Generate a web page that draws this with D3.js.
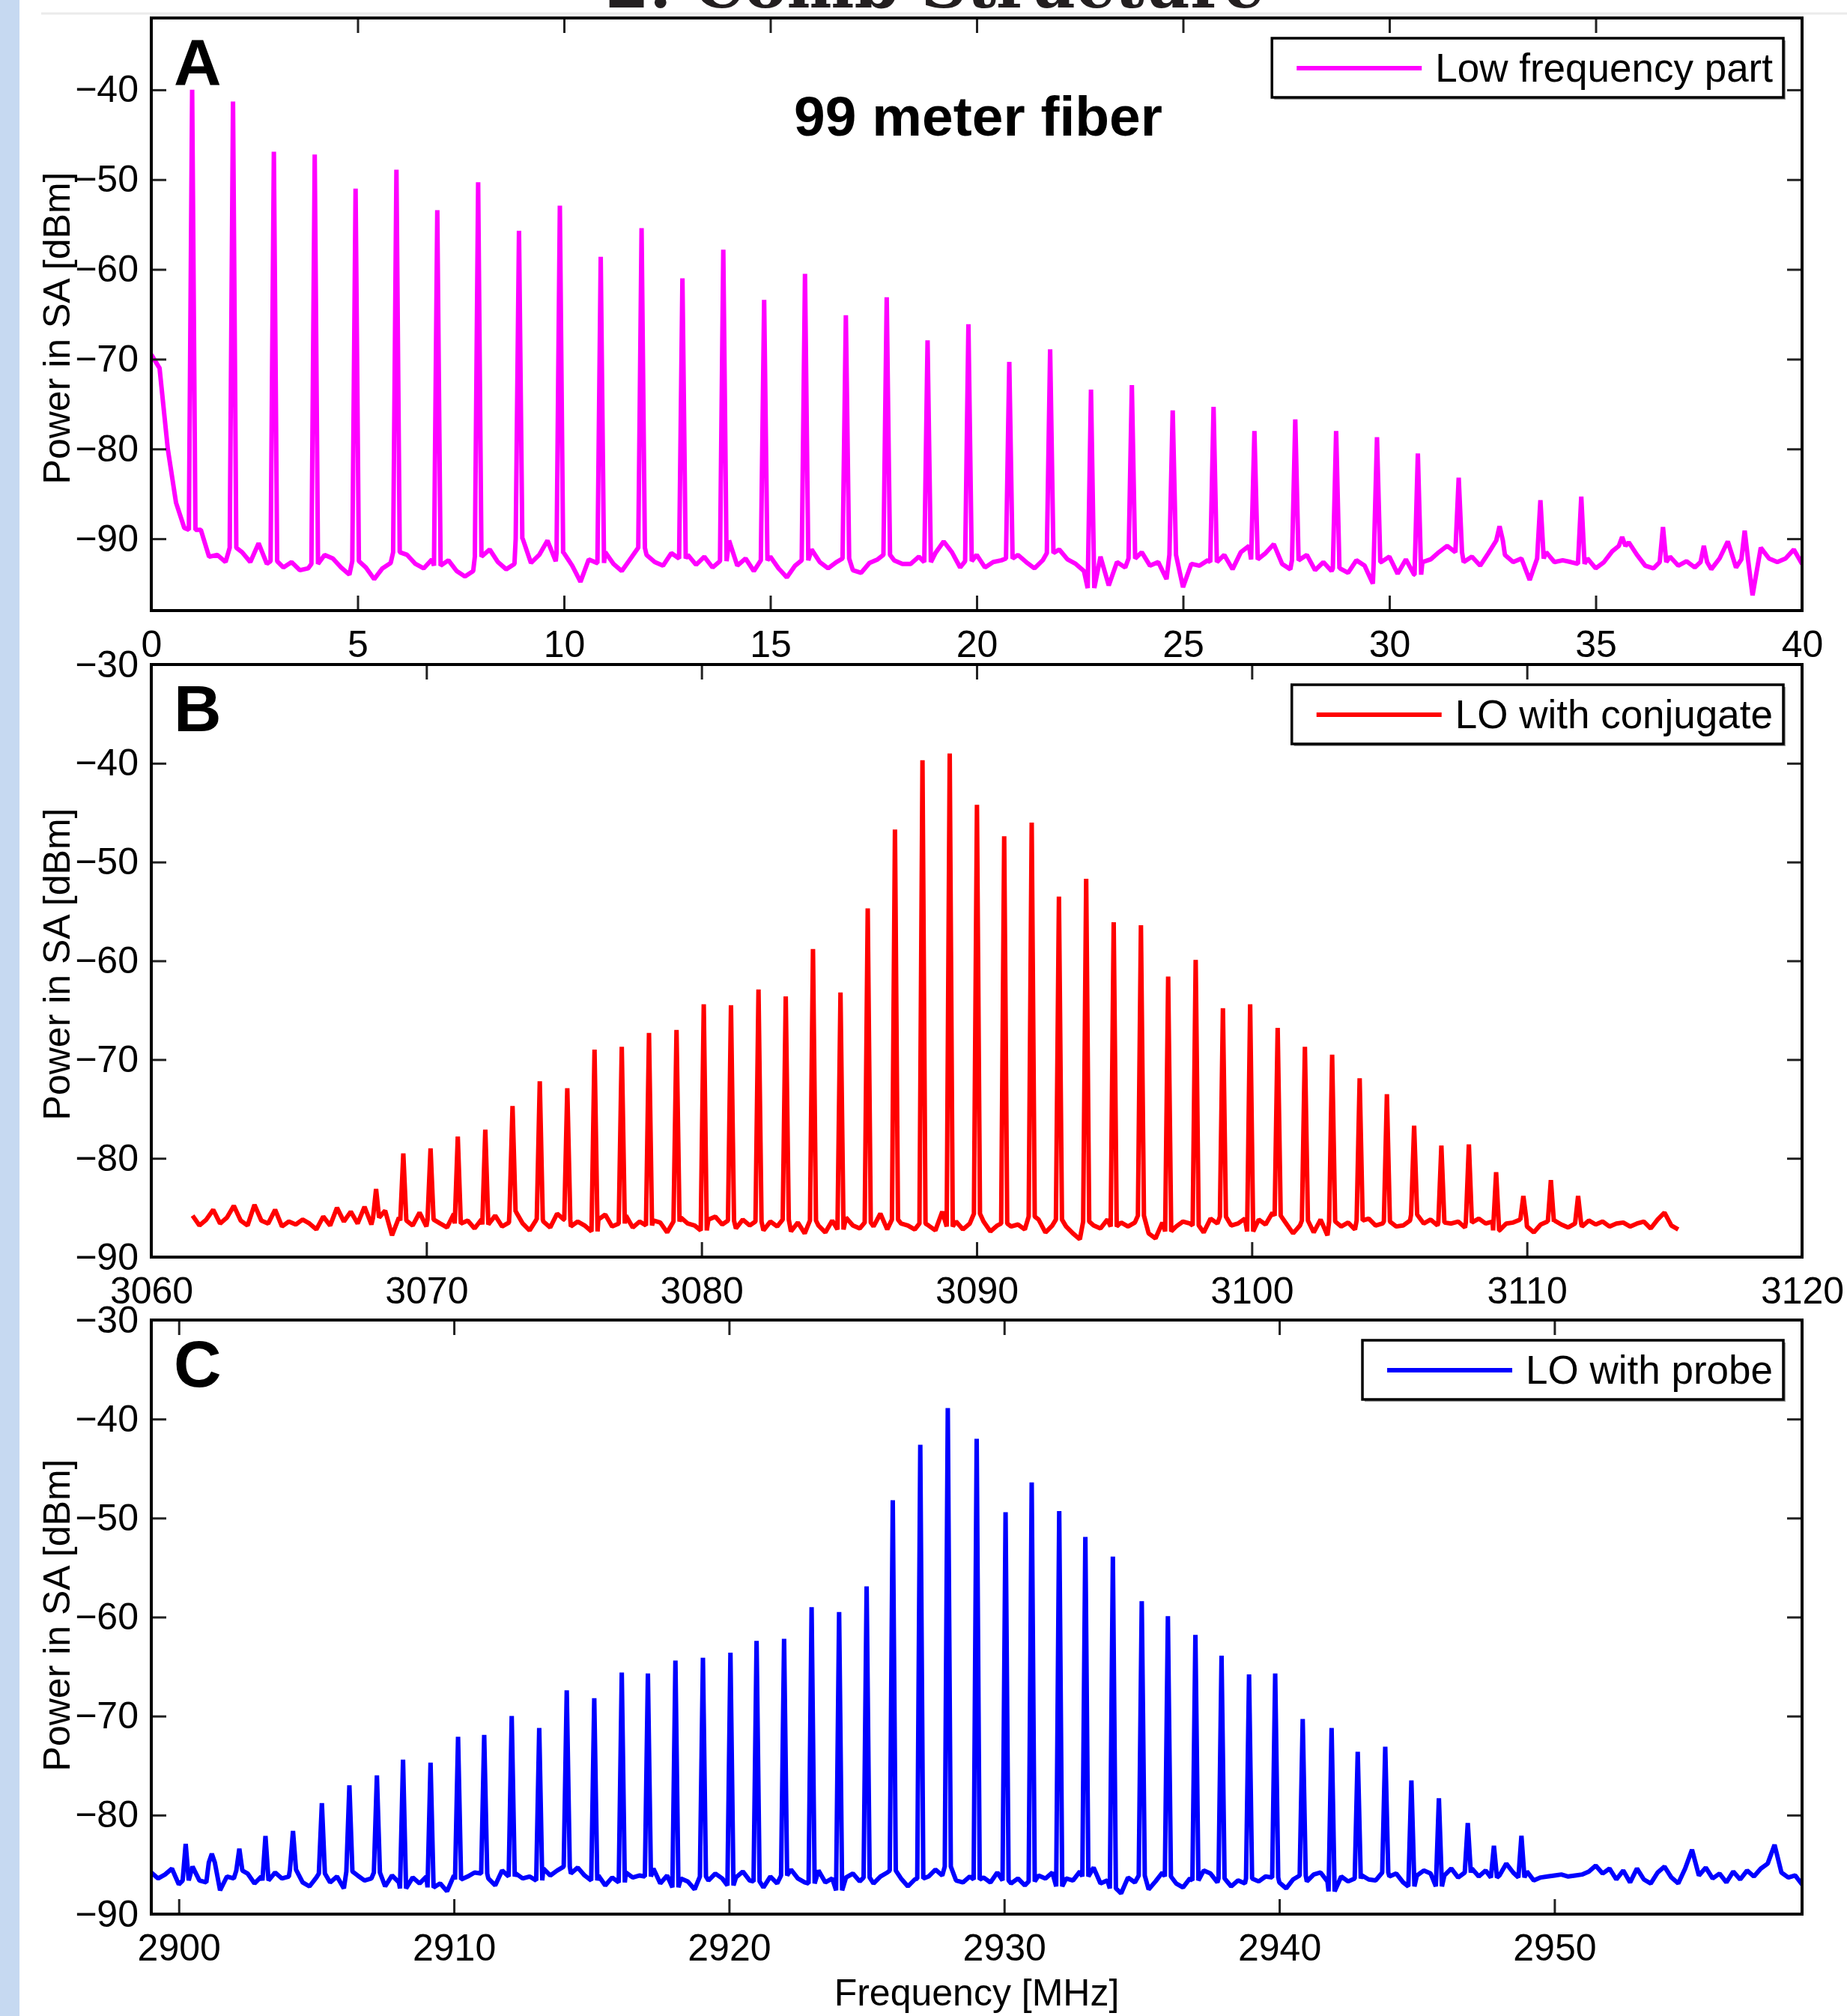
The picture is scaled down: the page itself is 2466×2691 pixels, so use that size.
<!DOCTYPE html>
<html>
<head>
<meta charset="utf-8">
<script src="https://cdn.jsdelivr.net/npm/d3@7"></script>
<style>
  body { margin: 0; background: #fff; }
  text { font-family: 'Liberation Sans', Arial, sans-serif; }
</style>
</head>
<body>
<div id="chart"></div>
<script>
// ---- panel A : low frequency part ----
const floorStartA = 0
const floorStepA = 0.2
const floorA = [
  -69.5, -71, -80, -86, -88.8, -89, -89, -92, -91.8, -92.6,
  -91, -91.5, -92.6, -90.5, -92.8, -92.5, -93.2, -92.6, -93.5, -93.3,
  -92.8, -91.8, -92.2, -93.2, -94, -92.5, -93.2, -94.5, -93.3, -92.7,
  -91.5, -91.8, -92.8, -93.3, -92.3, -93, -92.4, -93.6, -94.2, -93.6,
  -92, -91.2, -92.6, -93.4, -92.8, -90, -92.7, -91.8, -90.2, -92.5,
  -91.6, -93, -94.8, -92.3, -92.7, -91.5, -92.8, -93.6, -92.3, -91,
  -91.8, -92.6, -93, -91.6, -92.2, -91.8, -92.9, -92, -93.2, -92.5,
  -90.2, -93, -92.2, -93.6, -92.4, -92, -93.3, -94.3, -93, -92.4,
  -91.2, -92.6, -93.3, -92.6, -92.2, -93.5, -93.8, -92.7, -92.3, -91.8,
  -92.4, -92.8, -92.8, -92, -92.6, -91.6, -90.3, -91.5, -93.2, -92.5,
  -91.8, -93.2, -92.6, -92.4, -92.2, -91.8, -92.6, -93.3, -92.4, -91.6,
  -91.2, -92.3, -92.8, -93.6, -95.5, -92, -95.2, -92.6, -93.2, -92.2,
  -91.5, -93, -92.6, -94.5, -91.8, -95.4, -92.8, -93, -92.4, -92.6,
  -91.8, -93.4, -91.5, -90.8, -92.3, -91.6, -90.6, -92.8, -93.4, -92.4,
  -91.8, -93.5, -92.6, -93.6, -93.3, -93.8, -92.4, -93, -95, -92.6,
  -92, -93.9, -92.3, -94, -92.6, -92.3, -91.5, -90.8, -91.5, -92.6,
  -92, -93, -91.6, -90.2, -91.8, -92.6, -92.2, -94.6, -92.2, -91.5,
  -92.6, -92.4, -92.6, -92.8, -92.2, -93.3, -92.6, -91.4, -90.8, -90.4,
  -91.8, -93, -93.3, -92.6, -92, -93, -92.5, -93.2, -92.6, -93.4,
  -92.2, -90.3, -93.2, -92.3, -96.3, -91, -92.2, -92.6, -92.2, -91.2,
  -92.8
]
const peakFreqA = [
  0.99, 1.98, 2.97, 3.96, 4.95, 5.94, 6.93, 7.92, 8.91, 9.90,
  10.89, 11.88, 12.87, 13.86, 14.85, 15.84, 16.83, 17.82, 18.81, 19.80,
  20.79, 21.78, 22.77, 23.76, 24.75, 25.74, 26.73, 27.72, 28.71, 29.70,
  30.69, 31.68, 32.67, 33.66, 34.65, 35.64, 36.63, 37.62, 38.61
]
const peakPowerA = [
  -40, -41.3, -46.9, -47.2, -51, -48.9, -53.4, -50.3, -55.7, -52.9,
  -58.6, -55.4, -61, -57.8, -63.4, -60.5, -65.1, -63.1, -67.9, -66.1,
  -70.3, -68.9, -73.4, -72.9, -75.7, -75.3, -78, -76.7, -78, -78.7,
  -80.5, -83.2, -88.6, -85.7, -85.3, -89.8, -88.7, -90.8, -89.1
]
const xTicksA = [0, 5, 10, 15, 20, 25, 30, 35, 40]
const yTicksA = [-90, -80, -70, -60, -50, -40]

// ---- panel B : LO with conjugate ----
const floorStartB = 3061.5
const floorStepB = 0.25
const floorB = [
  -85.8, -86.8, -86.2, -85.2, -86.6, -86, -84.8, -86.3,
  -86.8, -84.7, -86.3, -86.6, -85.2, -86.9, -86.4, -86.7,
  -86.2, -86.6, -87.2, -85.9, -86.8, -85, -86.4, -85.4,
  -86.6, -84.9, -86.7, -86, -85.3, -87.8, -86, -86.3,
  -86.8, -85.5, -86.9, -86.2, -86.6, -87, -85.6, -86.6,
  -86.3, -87.1, -86.2, -86.7, -85.8, -86.9, -86.5, -85.4,
  -86.6, -87.3, -86.2, -86.4, -87, -85.6, -86.2, -86.9,
  -86.4, -86.8, -87.4, -86.2, -85.7, -86.9, -86.6, -85.8,
  -87, -86.4, -86.8, -86.3, -86.5, -87.5, -86.4, -86,
  -86.6, -86.8, -87.3, -86.2, -85.9, -86.7, -86.3, -87.1,
  -86.2, -86.8, -86.4, -87.3, -86.4, -86.9, -86.2, -87.4,
  -86.5, -87.6, -86.3, -86.8, -87.5, -86.3, -87.2, -86,
  -86.8, -87.1, -86.5, -86.9, -85.6, -87.2, -86.2, -86.6,
  -86.8, -87.2, -86.6, -86.8, -87.3, -85.4, -86.9, -86.4,
  -87.2, -86.6, -85.6, -86.4, -87.4, -86.8, -86.6, -86.9,
  -86.7, -87.2, -85.9, -86.2, -87.5, -86.8, -86.2, -86.9,
  -87.6, -88.2, -86.4, -86.8, -87.1, -86.2, -86.9, -86.5,
  -86.9, -86.5, -85.8, -87.6, -88.1, -86.5, -87.4, -86.9,
  -86.4, -86.6, -86.8, -87.5, -86.1, -86.6, -85.9, -86.8,
  -86.6, -86.1, -87.4, -86.2, -86.7, -85.5, -85.8, -86.6,
  -87.6, -86.8, -86.3, -87.5, -86.2, -87.8, -86.4, -86.9,
  -86.5, -87.2, -86.3, -86.1, -86.8, -86.6, -86.4, -86.9,
  -86.8, -86.3, -85.7, -86.6, -86.2, -86.8, -86.5, -86.6,
  -86.4, -87, -86.5, -86.1, -86.6, -86.4, -87.3, -86.6,
  -86.5, -86.2, -86.9, -87.5, -86.7, -86.4, -86.3, -86.7,
  -87, -86.6, -86.9, -86.3, -86.7, -86.4, -86.9, -86.6,
  -86.5, -86.9, -86.6, -86.4, -87.1, -86.2, -85.5, -86.8,
  -87.2
]
const peakFreqB = [
  3068.17, 3069.16, 3070.15, 3071.14, 3072.14, 3073.13, 3074.12, 3075.12, 3076.11, 3077.10,
  3078.09, 3079.09, 3080.08, 3081.07, 3082.07, 3083.06, 3084.05, 3085.05, 3086.04, 3087.03,
  3088.03, 3089.02, 3090.01, 3091.00, 3092.00, 3092.99, 3093.98, 3094.98, 3095.97, 3096.96,
  3097.96, 3098.95, 3099.94, 3100.94, 3101.93, 3102.92, 3103.92, 3104.91, 3105.90, 3106.89,
  3107.89, 3108.88, 3109.87, 3110.87, 3111.86
]
const peakPowerB = [
  -83.1, -79.5, -79, -77.8, -77.1, -74.7, -72.2, -72.9, -69, -68.7,
  -67.3, -67, -64.4, -64.5, -62.9, -63.6, -58.8, -63.2, -54.7, -46.7,
  -39.7, -39, -44.2, -47.4, -46, -53.5, -51.7, -56.1, -56.4, -61.6,
  -59.9, -64.8, -64.4, -66.8, -68.7, -69.5, -71.9, -73.5, -76.7, -78.7,
  -78.6, -81.4, -83.8, -82.2, -83.8
]
const xTicksB = [3060, 3070, 3080, 3090, 3100, 3110, 3120]
const yTicksB = [-90, -80, -70, -60, -50, -40, -30]

// ---- panel C : LO with probe ----
const floorStartC = 2899
const floorStepC = 0.25
const floorC = [
  -85.8, -86.4, -86, -85.4, -87, -86.6, -85.2, -86.6,
  -86.8, -84.8, -87.6, -86.2, -86.4, -85.6, -85.9, -86.9,
  -86.2, -86.6, -85.8, -86.4, -86.2, -85.5, -86.8, -87.2,
  -86.3, -85.9, -86.8, -86.2, -87.4, -85.7, -86.1, -86.6,
  -86.4, -85.8, -87.2, -86.1, -86.8, -87.4, -86.3, -86.9,
  -86.2, -87.3, -86.9, -87.7, -86.1, -86.5, -86.2, -85.8,
  -85.9, -86.4, -87.1, -85.6, -86.2, -85.9, -86.4, -86.2,
  -86.6, -85.4, -86.1, -85.6, -85.2, -85.9, -85.3, -86.1,
  -86.6, -86.1, -87.1, -86.3, -86.8, -85.8, -86.3, -86.1,
  -86.2, -85.4, -86.9, -86.1, -87.3, -86.4, -86.7, -87.5,
  -86.2, -86.6, -85.9, -86.4, -87.1, -86.3, -85.7, -86.6,
  -86.7, -87.3, -86.2, -86.9, -86.1, -85.5, -86.4, -86.8,
  -86.9, -85.6, -86.8, -86.4, -87.6, -86.3, -85.9, -86.7,
  -86.3, -86.9, -86.2, -85.8, -85.6, -86.4, -87.2, -86.5,
  -86.4, -86.2, -85.5, -86.1, -85.2, -86.6, -86.8, -86.2,
  -86.5, -86.3, -86.8, -85.8, -86.6, -86.9, -86.4, -87.1,
  -86.7, -86.1, -86.4, -85.8, -87.2, -86.4, -86.6, -85.7,
  -86.2, -85.3, -86.9, -86.6, -87.4, -87.9, -86.3, -86.8,
  -86.1, -87.5, -86.7, -85.8, -86.2, -86.9, -87.3, -86.4,
  -86.6, -85.6, -85.9, -86.8, -86.4, -87.2, -86.6, -86.9,
  -86.4, -86.7, -86.2, -86.3, -86.8, -87.4, -86.5, -86.1,
  -86.7, -86, -85.8, -86.7, -87.7, -86.2, -86.7, -86.4,
  -86.1, -86.5, -86.6, -85.8, -86.2, -85.9, -86.8, -87.2,
  -86.1, -85.6, -85.9, -87.2, -86.1, -85.4, -86.3, -85.8,
  -85.4, -86.2, -85.6, -86.3, -86.1, -84.9, -85.8, -86.3,
  -85.7, -86.6, -86.3, -86.2, -86.1, -86, -86.2, -86.1,
  -86, -85.7, -85.1, -85.9, -85.4, -86.5, -85.6, -86.8,
  -85.4, -86.5, -86.9, -85.8, -85.2, -86.3, -86.9, -85.4,
  -83.5, -86.1, -85.3, -86.4, -85.9, -86.8, -85.7, -86.5,
  -85.6, -86.2, -85.4, -84.9, -83, -85.8, -86.3, -86.1,
  -87
]
const peakFreqC = [
  2900.25, 2901.2, 2902.2, 2903.15, 2904.15, 2905.2, 2906.2, 2907.2, 2908.15, 2909.15,
  2910.15, 2911.1, 2912.1, 2913.1, 2914.1, 2915.1, 2916.1, 2917.05, 2918.05, 2919.05,
  2920.05, 2921.0, 2922.0, 2923.0, 2924.0, 2925.0, 2925.95, 2926.95, 2927.95, 2929.0,
  2930.05, 2931.0, 2932.0, 2932.95, 2933.95, 2935.0, 2935.95, 2936.95, 2937.9, 2938.9,
  2939.85, 2940.85, 2941.9, 2942.85, 2943.85, 2944.8, 2945.8, 2946.85, 2947.8, 2948.8
]
const peakPowerC = [
  -82.9, -83.9, -83.4, -82.1, -81.6, -78.8, -77, -76, -74.4, -74.7,
  -72.1, -71.9, -70, -71.2, -67.4, -68.2, -65.6, -65.7, -64.4, -64.1,
  -63.6, -62.4, -62.2, -59, -59.5, -56.9, -48.2, -42.6, -38.9, -42,
  -49.4, -46.4, -49.3, -51.9, -53.9, -58.4, -59.9, -61.8, -63.9, -65.8,
  -65.7, -70.3, -71.2, -73.6, -73.1, -76.5, -78.3, -80.8, -83.1, -82.1
]
const xTicksC = [2900, 2910, 2920, 2930, 2940, 2950]
const yTicksC = [-90, -80, -70, -60, -50, -40, -30]

const legendNames = ['Low frequency part', 'LO with conjugate', 'LO with probe']
const panelLetters = ['A', 'B', 'C']
const colors = ['#ff00ff', '#ff0000', '#0000ff']

const W = 2466
const H = 2691
const left = 202
const right = 2406

const panels = [
  { top: 24, bottom: 815, xDomain: [0, 40], yDomain: [-98, -32], labelY: 438,
    start: floorStartA, step: floorStepA, floor: floorA, peakF: peakFreqA, peakV: peakPowerA,
    xTicks: xTicksA, yTicks: yTicksA, w: 0.08 },
  { top: 887, bottom: 1678, xDomain: [3060, 3120], yDomain: [-90, -30], labelY: 1287,
    start: floorStartB, step: floorStepB, floor: floorB, peakF: peakFreqB, peakV: peakPowerB,
    xTicks: xTicksB, yTicks: yTicksB, w: 0.11 },
  { top: 1762, bottom: 2555, xDomain: [2899, 2959], yDomain: [-90, -30], labelY: 2156,
    start: floorStartC, step: floorStepC, floor: floorC, peakF: peakFreqC, peakV: peakPowerC,
    xTicks: xTicksC, yTicks: yTicksC, w: 0.11 }
]

// spectrum trace = noise floor samples with the comb lines put in
function buildSeries (p) {
  const pts = p.floor
    .map((v, i) => ({ f: p.start + i * p.step, v }))
    .filter(d => p.peakF.every(f => Math.abs(d.f - f) >= p.w))
  p.peakF.forEach((f, i) => {
    const base = p.floor[Math.round((f - p.start) / p.step)]
    pts.push({ f: f - p.w, v: base }, { f, v: p.peakV[i] }, { f: f + p.w, v: base })
  })
  return pts.sort((a, b) => a.f - b.f)
}

const svg = d3.select('#chart')
  .append('svg')
  .attr('width', W)
  .attr('height', H)
  .style('display', 'block')

svg.append('rect').attr('width', W).attr('height', H).attr('fill', '#fff')
svg.append('rect').attr('width', 26).attr('height', H).attr('fill', '#c6d9f1')
svg.append('line')
  .attr('x1', 55).attr('x2', W).attr('y1', 18).attr('y2', 18)
  .attr('stroke', '#ebebeb').attr('stroke-width', 3)

svg.append('text')
  .text('2. Comb Structure')
  .attr('x', 1248).attr('y', 10)
  .attr('text-anchor', 'middle')
  .attr('textLength', 880)
  .attr('lengthAdjust', 'spacingAndGlyphs')
  .style('font-family', "'DejaVu Serif', serif")
  .style('font-weight', 'bold')
  .style('font-size', '84px')
  .attr('fill', '#231f20')

function styleAxis (g) {
  g.select('.domain').remove()
  g.selectAll('.tick line').attr('stroke', '#222').attr('stroke-width', 3)
  g.selectAll('.tick text')
    .attr('fill', '#000')
    .style('font-family', "'Liberation Sans', Arial, sans-serif")
    .style('font-size', '50px')
}

panels.forEach((p, i) => {
  const x = d3.scaleLinear().domain(p.xDomain).range([left, right])
  const y = d3.scaleLinear().domain(p.yDomain).range([p.bottom, p.top])
  const g = svg.append('g')

  g.append('clipPath').attr('id', `clip${i}`)
    .append('rect')
    .attr('x', left).attr('y', p.top)
    .attr('width', right - left).attr('height', p.bottom - p.top)

  const line = d3.line().x(d => x(d.f)).y(d => y(d.v))
  g.append('path')
    .datum(buildSeries(p))
    .attr('clip-path', `url(#clip${i})`)
    .attr('d', line)
    .attr('fill', 'none')
    .attr('stroke', colors[i])
    .attr('stroke-width', 6)
    .attr('stroke-linejoin', 'bevel')

  const fmt = d3.format('d')
  g.append('g')
    .attr('transform', `translate(0,${p.bottom})`)
    .call(d3.axisBottom(x).tickValues(p.xTicks).tickFormat(fmt).tickSizeInner(-20).tickSizeOuter(0).tickPadding(26))
    .call(styleAxis)
  g.append('g')
    .attr('transform', `translate(0,${p.top})`)
    .call(d3.axisTop(x).tickValues(p.xTicks).tickFormat(() => '').tickSizeInner(-20).tickSizeOuter(0))
    .call(styleAxis)
  g.append('g')
    .attr('transform', `translate(${left},0)`)
    .call(d3.axisLeft(y).tickValues(p.yTicks).tickFormat(fmt).tickSizeInner(-20).tickSizeOuter(0).tickPadding(17))
    .call(styleAxis)
  g.append('g')
    .attr('transform', `translate(${right},0)`)
    .call(d3.axisRight(y).tickValues(p.yTicks).tickFormat(() => '').tickSizeInner(-20).tickSizeOuter(0))
    .call(styleAxis)

  g.append('rect')
    .attr('x', left).attr('y', p.top)
    .attr('width', right - left).attr('height', p.bottom - p.top)
    .attr('fill', 'none').attr('stroke', '#000').attr('stroke-width', 4)

  g.append('text')
    .text(panelLetters[i])
    .attr('x', 232).attr('y', p.top + 89)
    .style('font-weight', 'bold').style('font-size', '88px')

  g.append('text')
    .text('Power in SA [dBm]')
    .attr('transform', `translate(93,${p.labelY}) rotate(-90)`)
    .attr('text-anchor', 'middle')
    .style('font-size', '50px')

  // legend
  const lg = g.append('g')
  const label = lg.append('text')
    .text(legendNames[i])
    .style('font-size', '53px')
  const tw = label.node().getComputedTextLength()
  const bw = 218 + tw + 14
  const bx = 2381 - bw
  const by = p.top + 27
  lg.insert('rect', 'text')
    .attr('x', bx + 3).attr('y', by + 3).attr('width', bw).attr('height', 79)
    .attr('fill', '#9a9a9a')
  lg.insert('rect', 'text')
    .attr('x', bx).attr('y', by).attr('width', bw).attr('height', 79)
    .attr('fill', '#fff').attr('stroke', '#000').attr('stroke-width', 3.5)
  lg.append('line')
    .attr('x1', bx + 33).attr('x2', bx + 200)
    .attr('y1', by + 40).attr('y2', by + 40)
    .attr('stroke', colors[i]).attr('stroke-width', 6)
  label.attr('x', bx + 218).attr('y', by + 58)
})

svg.append('text')
  .text('99 meter fiber')
  .attr('x', 1306).attr('y', 181)
  .attr('text-anchor', 'middle')
  .style('font-weight', 'bold')
  .style('font-size', '75px')

svg.append('text')
  .text('Frequency [MHz]')
  .attr('x', 1304).attr('y', 2677)
  .attr('text-anchor', 'middle')
  .style('font-size', '50px')
</script>
</body>
</html>
